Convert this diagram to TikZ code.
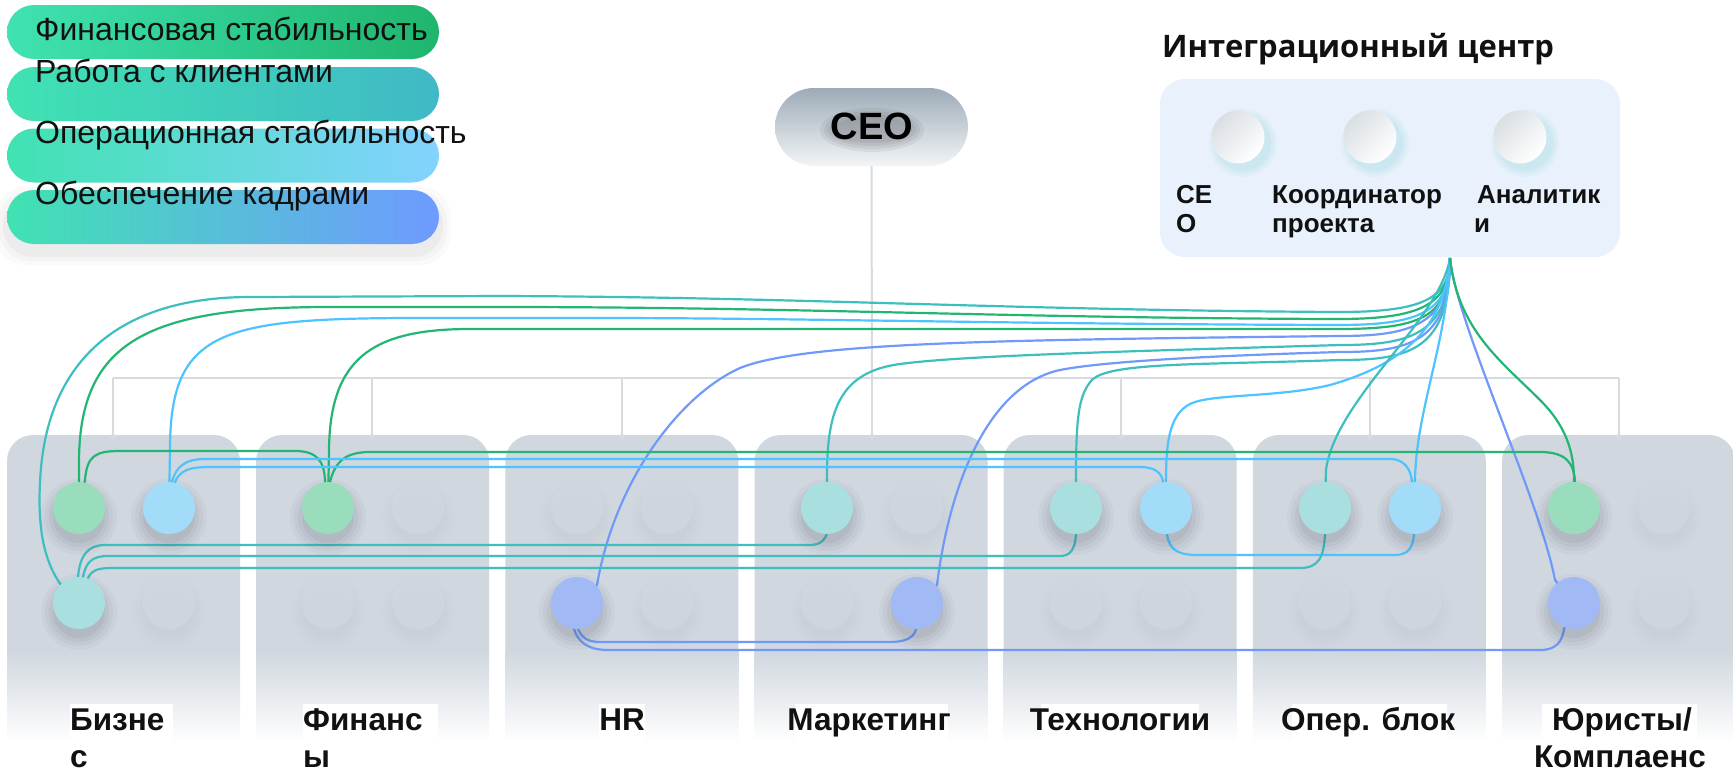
\documentclass[tikz,border=0pt]{standalone}
\usepackage{fontspec}
\setmainfont{Liberation Sans}
\newfontfamily\titlefont{Open Sans}
\definecolor{cgreen}{HTML}{22B573}
\definecolor{cteal}{HTML}{3DBFC0}
\definecolor{clblue}{HTML}{4DC3FF}
\definecolor{cblue}{HTML}{7099FA}
\definecolor{fgreen}{HTML}{99DDBD}
\definecolor{fteal}{HTML}{AADFDF}
\definecolor{flblue}{HTML}{A3DCF8}
\definecolor{fblue}{HTML}{A1B9F4}
\definecolor{mint}{HTML}{40E2B2}
\definecolor{lgA}{HTML}{1FB56D}
\definecolor{lgB}{HTML}{40B9C6}
\definecolor{lgC}{HTML}{84D2FF}
\definecolor{lgD}{HTML}{6F9AFF}
\definecolor{boxgray}{HTML}{D0D7DF}
\definecolor{slotgray}{HTML}{D0D7DF}
\definecolor{busgray}{HTML}{D6DBE1}
\definecolor{intbg}{HTML}{E9F1FC}
\definecolor{ceotop}{HTML}{9DABB8}
\definecolor{ceobot}{HTML}{F3F5F7}
\definecolor{icgray}{HTML}{DADFE3}
\definecolor{shadowc}{HTML}{2A3440}
\definecolor{txt}{HTML}{111111}
% soft drop shadow under a disc: x, y, strength (percent)
\newcommand{\dropshade}[3]{%
  \foreach \rr/\oo in {38/3,34/4,30/5,26/6}{%
    \pgfmathsetmacro{\opq}{\oo*#3/10000}%
    \fill[shadowc, opacity=\opq] (#1,#2+9) circle (\rr pt);%
  }%
}
\begin{document}
\begin{tikzpicture}[x=1pt,y=-1pt,
  conn/.style={line width=2.2pt, line join=round},
  dotpos/.style={circle, minimum size=52pt, inner sep=0pt},
  disc/.style={circle, minimum size=52pt, inner sep=0pt},
  pill/.style={rounded corners=27pt, minimum width=432pt, minimum height=54pt, inner sep=0pt},
  legtext/.style={anchor=base west, inner sep=0pt, text=txt, font=\fontsize{32}{38}\selectfont},
  dept/.style={anchor=base, inner sep=0pt, text=txt, font=\bfseries\fontsize{31.5}{37}\selectfont},
  deptl/.style={dept, anchor=base west},
  icl/.style={anchor=base west, inner sep=0pt, text=txt, font=\bfseries\fontsize{26}{30}\selectfont},
  icirc/.style={circle, minimum size=53pt, inner sep=0pt, top color=icgray, bottom color=white, shading angle=45},
  bus/.style={busgray, line width=2pt},
  ceotext/.style={inner sep=0pt, font=\bfseries\fontsize{38}{44}\selectfont},
]
\useasboundingbox (0,0) rectangle (1733,772);
\fill[white] (0,0) rectangle (1733,772);

% ---------------- department boxes ----------------
\foreach \i in {0,...,6}{
  \pgfmathsetmacro{\bx}{7+249.17*\i}
  \fill[boxgray, rounded corners=26pt] (\bx,652) -- (\bx,435) -- (\bx+233,435) -- (\bx+233,652);
  \shade[top color=boxgray, bottom color=white] (\bx,651) rectangle (\bx+233,742);
}
% white label backgrounds
\fill[white] (70,704) rectangle (173,742);
\fill[white] (303,704) rectangle (438,742);
\fill[white] (599,704) rectangle (645,742);
\fill[white] (795,704) rectangle (948,742);
\fill[white] (1041,704) rectangle (1199,742);
\fill[white] (1292,704) rectangle (1447,742);
\fill[white] (1542,704) rectangle (1697,742);
% org bus
\draw[bus] (113,378) -- (1619,378);
\foreach \tx in {113,372,622,872,1121,1370,1619}{
  \draw[bus] (\tx,378) -- (\tx,436);
  \fill[busgray] (\tx,437) circle (3pt);
}
% empty slots
\foreach \sx/\sy [count=\k] in {169/603, 418/508, 328/603, 418/603, 577/508, 667/508, 667/603, 917/508, 827/603, 1076/603, 1166/603, 1325/603, 1415/603, 1664/508, 1664/603}{
  \dropshade{\sx}{\sy}{16}
  \node[disc, fill=slotgray, fill opacity=0.85] (slot\k) at (\sx,\sy) {};
}

% ---------------- legend ----------------
\foreach \e/\o in {12/0.02,8/0.025,4/0.03}{
  \fill[black, opacity=\o, rounded corners=30pt] (7-\e,190-\e+9) rectangle (439+\e,244+\e+9);
}
\node[pill, left color=mint, right color=lgA] (p1) at (223,32) {};
\node[pill, left color=mint, right color=lgB] (p2) at (223,94) {};
\node[pill, left color=mint, right color=lgC] (p3) at (223,155.5) {};
\node[pill, left color=mint, right color=lgD] (p4) at (223,217) {};
\node[legtext] (l1) at (35,40) {Финансовая стабильность};
\node[legtext] (l2) at (35,82) {Работа с клиентами};
\node[legtext] (l3) at (35,143) {Операционная стабильность};
\node[legtext] (l4) at (35,204) {Обеспечение кадрами};

% ---------------- CEO ----------------
\node[rounded corners=39pt, minimum width=193pt, minimum height=78pt, inner sep=0pt,
      top color=ceotop, bottom color=ceobot] (ceo) at (871.5,127) {};
\foreach \ex/\ey in {52/22,48/19,44/16,40/13}{
  \fill[black, opacity=0.05] (872,130) ellipse (\ex pt and \ey pt);
}
\node[ceotext, text=black] (ceotxt) at (872,126) {CEO};
\draw[bus] (ceo.south) -- (872,378);

% ---------------- Integration centre ----------------
\node[anchor=base west, inner sep=0pt, text=txt, font=\titlefont\bfseries\fontsize{31}{36}\selectfont] (ictitle) at (1162,57) {Интеграционный центр};
\node[fill=intbg, rounded corners=25pt, minimum width=460pt, minimum height=178pt, inner sep=0pt] (ic) at (1390,168) {};
\foreach \cx [count=\k] in {1238,1370,1520}{
  \foreach \r/\o in {34/0.05,31/0.06,28/0.07}{
    \fill[cteal, opacity=\o] (\cx+5,137+6) circle (\r pt);
  }
  \node[icirc] (icc\k) at (\cx,137) {};
}
\node[icl] (icl1a) at (1176,203) {CE};
\node[icl] (icl1b) at (1176,232) {O};
\node[icl] (icl2a) at (1272,203) {Координатор};
\node[icl] (icl2b) at (1272,232) {проекта};
\node[icl] (icl3a) at (1477,203) {Аналитик};
\node[icl] (icl3b) at (1474,232) {и};
\coordinate (hub) at (1450,258);

% ---------------- department labels ----------------
\node[deptl] (d1a) at (70,730) {Бизне};
\node[deptl] (d1b) at (70,767) {с};
\node[deptl] (d2a) at (303,730) {Финанс};
\node[deptl] (d2b) at (303,767) {ы};
\node[dept] (d3) at (622,730) {HR};
\node[dept] (d4) at (869,730) {Маркетинг};
\node[dept] (d5) at (1120,730) {Технологии};
\node[dept] (d6) at (1368,730) {Опер. блок};
\node[dept] (d7a) at (1622,730) {Юристы/};
\node[dept] (d7b) at (1620,767) {Комплаенс};

% ---------------- role positions ----------------
\foreach \n/\x/\y in {A/79/508, B/169/508, C/79/603, D/328/508, E/577/603, F/827/508, G/917/603,
                      H/1076/508, I/1166/508, J/1325/508, K/1415/508, L/1574/508, M/1574/603}{
  \node[dotpos] (\n) at (\x,\y) {};
}

% ---------------- hub connectors ----------------
\draw[conn, cteal] (hub) .. controls (1450,300) and (1420,312) .. (1338,312)
  .. controls (1000,310) and (800,297) .. (500,296) -- (250,297)
  .. controls (120,297) and (45,360) .. (40,483)
  .. controls (37,540) and (48,580) .. (C.center);
\draw[conn, cgreen] (hub) .. controls (1450,305) and (1420,319) .. (1338,319)
  .. controls (1000,318) and (800,307) .. (500,307) -- (330,307)
  .. controls (150,307) and (80,340) .. (79,460) -- (A.center);
\draw[conn, clblue] (hub) .. controls (1450,312) and (1420,325) .. (1338,325)
  .. controls (1000,324) and (800,318) .. (600,318) -- (420,318)
  .. controls (220,318) and (170,330) .. (170,450) -- (B.center);
\draw[conn, cgreen] (hub) .. controls (1450,318) and (1420,329) .. (1338,329)
  -- (470,329) .. controls (370,329) and (330,360) .. (329,450) -- (D.center);
\draw[conn, cblue] (hub) .. controls (1450,325) and (1410,336) .. (1340,336)
  .. controls (1000,340) and (805,342) .. (740,368)
  .. controls (680,395) and (615,480) .. (597,585) -- (E.center);
\draw[conn, cteal] (hub) .. controls (1450,335) and (1410,345) .. (1340,345)
  .. controls (1100,352) and (960,356) .. (900,364)
  .. controls (840,372) and (828,410) .. (827,470) -- (F.center);
\draw[conn, cblue] (hub) .. controls (1450,342) and (1410,352) .. (1340,352)
  .. controls (1200,356) and (1100,362) .. (1060,370)
  .. controls (990,385) and (950,480) .. (937,585) -- (G.center);
\draw[conn, cteal] (hub) .. controls (1450,350) and (1410,360) .. (1340,360)
  .. controls (1200,365) and (1110,362) .. (1092,380)
  .. controls (1078,395) and (1076,420) .. (1076,480) -- (H.center);
\draw[conn, clblue] (hub) .. controls (1445,330) and (1400,365) .. (1330,385)
  .. controls (1280,397) and (1220,394) .. (1195,402)
  .. controls (1170,410) and (1166,440) .. (1166,480) -- (I.center);
\draw[conn, cteal] (hub) .. controls (1440,320) and (1335,400) .. (1326,470) -- (J.center);
\draw[conn, clblue] (hub) .. controls (1448,340) and (1416,410) .. (1415,480) -- (K.center);
\draw[conn, cblue] (hub) .. controls (1455,320) and (1540,500) .. (1555,580) -- (M.center);
\draw[conn, cgreen] (hub) .. controls (1458,330) and (1500,360) .. (1540,400)
  .. controls (1565,425) and (1574,450) .. (1574,480) -- (L.center);

% ---------------- inter-unit connectors ----------------
\draw[conn, cgreen] (A.center) -- (85,480) .. controls (87,456) and (95,451) .. (120,451)
  -- (295,451) .. controls (318,451) and (324,462) .. (325,480) -- (D.center);
\draw[conn, cgreen] (D.center) -- (330,482) .. controls (335,462) and (345,452) .. (370,452)
  -- (1540,452) .. controls (1565,452) and (1574,462) .. (1575,482) -- (L.center);
\draw[conn, clblue] (B.center) -- (172,482) .. controls (176,466) and (186,459) .. (205,459)
  -- (1390,459) .. controls (1405,459) and (1411,470) .. (1412,482) -- (K.center);
\draw[conn, clblue] (B.center) -- (175,482) .. controls (180,470) and (190,467) .. (210,467)
  -- (1140,467) .. controls (1155,467) and (1162,473) .. (1163,482) -- (I.center);
\draw[conn, clblue] (I.center) -- (1167,534) .. controls (1169,550) and (1178,555) .. (1198,555)
  -- (1395,555) .. controls (1408,555) and (1413,548) .. (1414,534) -- (K.center);
\draw[conn, cteal] (C.center) -- (78,577) .. controls (80,555) and (88,545) .. (105,545)
  -- (810,545) .. controls (820,545) and (826,540) .. (827,532) -- (F.center);
\draw[conn, cteal] (C.center) -- (83,577) .. controls (86,562) and (92,556) .. (108,556)
  -- (1060,556) .. controls (1070,556) and (1075,550) .. (1076,534) -- (H.center);
\draw[conn, cteal] (C.center) -- (88,578) .. controls (92,570) and (98,568) .. (112,568)
  -- (1300,568) .. controls (1318,568) and (1324,558) .. (1325,534) -- (J.center);
\draw[conn, cblue] (E.center) -- (578,629) .. controls (582,638) and (588,642) .. (600,642)
  -- (890,642) .. controls (905,642) and (914,638) .. (916,629) -- (G.center);
\draw[conn, cblue] (E.center) -- (574,629) .. controls (578,642) and (588,650) .. (608,650)
  -- (1540,650) .. controls (1556,650) and (1562,642) .. (1564,629) -- (M.center);

% ---------------- role discs on top ----------------
\foreach \n/\x/\y/\c in {A/79/508/fgreen, B/169/508/flblue, C/79/603/fteal, D/328/508/fgreen,
                         E/577/603/fblue, F/827/508/fteal, G/917/603/fblue, H/1076/508/fteal,
                         I/1166/508/flblue, J/1325/508/fteal, K/1415/508/flblue,
                         L/1574/508/fgreen, M/1574/603/fblue}{
  \dropshade{\x}{\y}{100}
  \node[disc, fill=\c] (\n-disc) at (\n) {};
}
\end{tikzpicture}
\end{document}
